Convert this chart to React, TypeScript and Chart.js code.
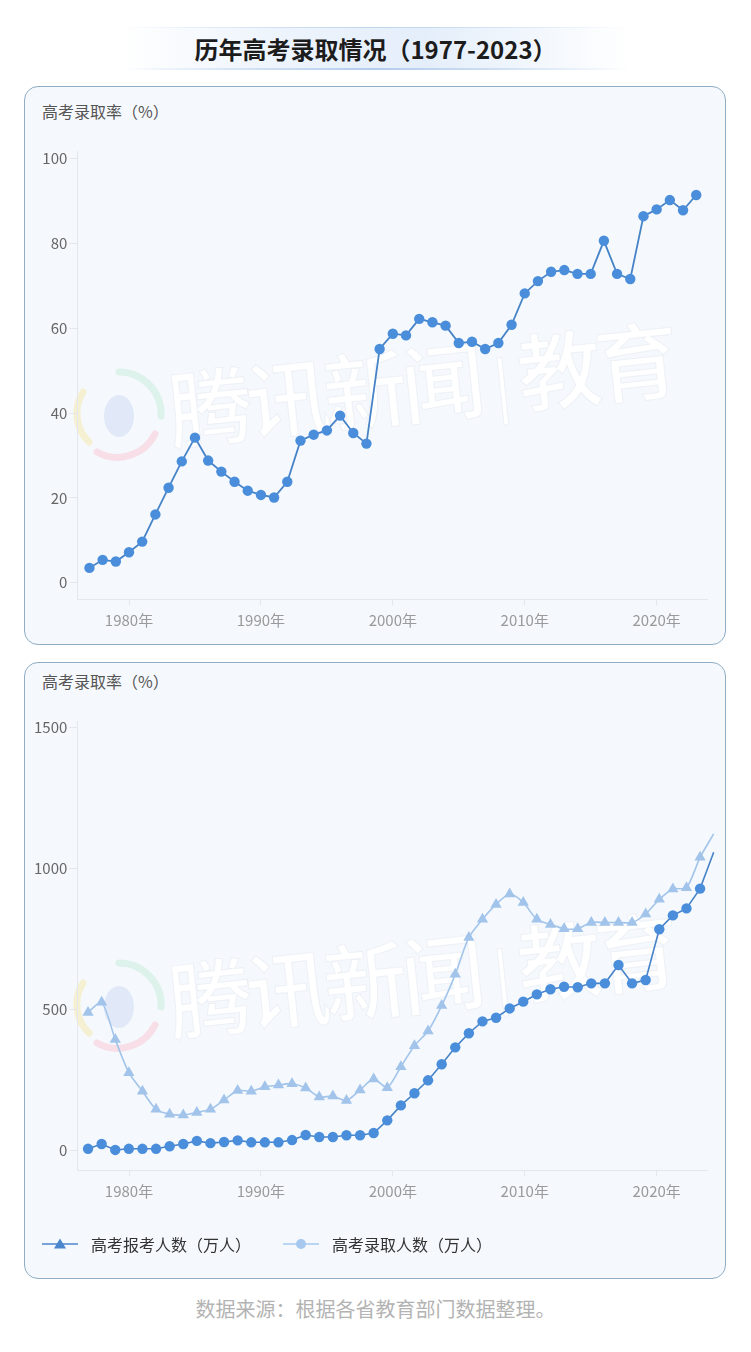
import React, { useEffect, useRef } from 'react';
import { Chart, registerables } from 'chart.js';

Chart.register(...registerables);

// ---------- data ----------
const years = [
  1977, 1978, 1979, 1980, 1981, 1982, 1983, 1984, 1985, 1986,
  1987, 1988, 1989, 1990, 1991, 1992, 1993, 1994, 1995, 1996,
  1997, 1998, 1999, 2000, 2001, 2002, 2003, 2004, 2005, 2006,
  2007, 2008, 2009, 2010, 2011, 2012, 2013, 2014, 2015, 2016,
  2017, 2018, 2019, 2020, 2021, 2022, 2023,
];

// 高考录取率（%）
const admissionRate = [
  3.5, 5.4, 5.0, 7.2, 9.7, 16.1, 22.4, 28.6, 34.2, 28.8,
  26.2, 23.8, 21.7, 20.7, 20.1, 23.8, 33.5, 34.9, 35.9, 39.4,
  35.3, 32.8, 55.1, 58.7, 58.3, 62.2, 61.4, 60.6, 56.5, 56.8,
  55.1, 56.5, 60.8, 68.2, 71.1, 73.3, 73.7, 72.8, 72.8, 80.6,
  72.8, 71.6, 86.4, 88.0, 90.2, 87.8, 91.4,
];

// 高考报考人数（万人） - light triangles
const applicants = [
  490, 526, 394, 276, 210, 146, 129, 126, 135, 146,
  179, 213, 210, 226, 232, 237, 222, 190, 193, 177,
  215, 254, 223, 297, 372, 424, 514, 625, 756, 820,
  873, 910, 880, 820, 802, 787, 787, 809, 809, 809,
  809, 839, 891, 928, 932, 1040, 1123,
];

// 高考录取人数（万人） - dark circles
const admitted = [
  6, 23, 2, 6, 6, 6, 15, 23, 34, 26,
  30, 36, 29, 29, 29, 37, 55, 48, 48, 54,
  54, 62, 107, 160, 203, 249, 306, 366, 416, 458,
  471, 504, 528, 554, 572, 581, 579, 593, 593, 658,
  593, 605, 785, 834, 859, 929, 1058,
];

const xTickYears = [1980, 1990, 2000, 2010, 2020];
const rateTicks = [0, 20, 40, 60, 80, 100];
const countTicks = [0, 500, 1000, 1500];

const legendLabels = ['高考报考人数（万人）', '高考录取人数（万人）'];

// ---------- styles ----------
const FONT = '"Noto Sans CJK SC", "Noto Sans", sans-serif';
const DARK = '#4a8edb';
const DARK_LINE = '#4783c7';
const LIGHT = '#a2c4ea';
const AXIS = '#e4e8ee';

Chart.defaults.font.family = FONT;

function xAxisCommon(min: number, max: number) {
  return {
    type: 'linear' as const,
    position: 'bottom' as const,
    min,
    max,
    afterBuildTicks: (s: any) => {
      s.ticks = xTickYears.map((v) => ({ value: v }));
    },
    afterFit: (s: any) => {
      s.height = 44.7;
    },
    grid: { drawOnChartArea: false, drawTicks: true, tickLength: 6, color: AXIS },
    border: { display: true, color: AXIS, width: 1 },
    ticks: {
      color: '#9a9a9a',
      font: { size: 15, family: FONT },
      padding: 6,
      maxRotation: 0,
      autoSkip: false,
      callback: (v: any) => `${v}年`,
    },
  };
}

function yAxisCommon(min: number, max: number, tickVals: number[]) {
  return {
    type: 'linear' as const,
    min,
    max,
    afterBuildTicks: (s: any) => {
      s.ticks = tickVals.map((v) => ({ value: v }));
    },
    afterFit: (s: any) => {
      s.width = 52.3;
    },
    grid: { drawOnChartArea: false, drawTicks: true, tickLength: 8, color: AXIS },
    border: { display: true, color: AXIS, width: 1 },
    ticks: {
      color: '#666666',
      font: { size: 15, family: FONT },
      padding: 2,
      callback: (v: any) => String(v),
    },
  };
}

function ChartCanvas({ build, width, height }: { build: () => any; width: number; height: number }) {
  const ref = useRef<HTMLCanvasElement | null>(null);
  useEffect(() => {
    const chart = new Chart(ref.current as HTMLCanvasElement, build());
    return () => chart.destroy();
  }, []);
  return (
    <canvas
      ref={ref}
      width={width}
      height={height}
      style={{ position: 'absolute', left: 0, top: 0, width, height }}
    />
  );
}

function buildRateChart() {
  return {
    type: 'line',
    data: {
      datasets: [
        {
          data: years.map((y, i) => ({ x: y, y: admissionRate[i] })),
          borderColor: DARK_LINE,
          borderWidth: 1.8,
          pointRadius: 5.2,
          pointHoverRadius: 5.2,
          pointBackgroundColor: DARK,
          pointBorderColor: DARK,
          pointBorderWidth: 0,
          tension: 0,
          clip: false,
        },
      ],
    },
    options: {
      animation: false,
      responsive: false,
      maintainAspectRatio: false,
      events: [],
      layout: { padding: { left: 0, right: 17.3, top: 64.7, bottom: 0 } },
      plugins: { legend: { display: false }, tooltip: { enabled: false } },
      scales: {
        x: xAxisCommon(1976.08, 2023.87),
        y: yAxisCommon(-3.9, 101.6, rateTicks),
      },
    },
  };
}

function buildCountChart() {
  const last = years.length - 1;
  return {
    type: 'line',
    data: {
      datasets: [
        {
          label: legendLabels[1],
          data: years.map((y, i) => ({ x: y, y: admitted[i] })),
          borderColor: DARK_LINE,
          borderWidth: 1.6,
          pointRadius: (c: any) => (c.dataIndex === last ? 0 : 5.2),
          pointHoverRadius: 5.2,
          pointBackgroundColor: DARK,
          pointBorderColor: DARK,
          pointBorderWidth: 0,
          tension: 0,
          clip: false,
          xAxisID: 'x',
        },
        {
          label: legendLabels[0],
          data: years.map((y, i) => ({ x: y, y: applicants[i] })),
          borderColor: LIGHT,
          borderWidth: 1.6,
          pointStyle: 'triangle',
          pointRadius: (c: any) => (c.dataIndex === last ? 0 : 6.5),
          pointHoverRadius: 6.5,
          pointBackgroundColor: LIGHT,
          pointBorderColor: LIGHT,
          pointBorderWidth: 0,
          tension: 0.25,
          clip: false,
          xAxisID: 'x',
        },
      ],
    },
    options: {
      animation: false,
      responsive: false,
      maintainAspectRatio: false,
      events: [],
      layout: { padding: { left: 0, right: 17.3, top: 58.7, bottom: 63.3 } },
      plugins: { legend: { display: false }, tooltip: { enabled: false } },
      scales: {
        x: { type: 'linear', display: false, min: 1976.21, max: 2022.56 },
        xt: xAxisCommon(1976.08, 2023.87),
        y: yAxisCommon(-69.2, 1521.3, countTicks),
      },
    },
  };
}

function Watermark({ top }: { top: number }) {
  return (
    <div style={{ position: 'absolute', left: 0, top, width: 700, height: 170, pointerEvents: 'none' }}>
      <svg width={100} height={100} style={{ position: 'absolute', left: 44, top: 30 }} viewBox="0 0 100 100">
        <path d="M 20 78 A 40 40 0 0 1 14 28" fill="none" stroke="#f6f0d2" strokeWidth={7} strokeLinecap="round" />
        <path d="M 50 8 A 42 42 0 0 1 92 52" fill="none" stroke="#ddf2eb" strokeWidth={7} strokeLinecap="round" />
        <path d="M 86 70 A 42 42 0 0 1 28 88" fill="none" stroke="#f8dfe7" strokeWidth={7} strokeLinecap="round" />
        <ellipse cx={50} cy={52} rx={15} ry={21} fill="#e1e9f8" />
      </svg>
      <div
        style={{
          position: 'absolute',
          left: 150,
          top: 18,
          fontFamily: FONT,
          fontSize: 84,
          fontWeight: 500,
          lineHeight: '110px',
          color: 'rgba(255,255,255,0.95)',
          WebkitTextStroke: '1px rgba(215,222,232,0.35)',
          transform: 'rotate(-6deg)',
          transformOrigin: 'left bottom',
          whiteSpace: 'nowrap',
          letterSpacing: -6,
        }}
      >
        腾讯新闻<span style={{ fontSize: 60, margin: '0 14px' }}>|</span>教育
      </div>
    </div>
  );
}

const panelBase: React.CSSProperties = {
  position: 'absolute',
  left: 24,
  width: 702,
  boxSizing: 'border-box',
  border: '1px solid #8fadc4',
  borderRadius: 14,
  background: '#f5f9fd',
  overflow: 'hidden',
};

const panelTitle: React.CSSProperties = {
  position: 'absolute',
  left: 17,
  fontFamily: FONT,
  fontSize: 16,
  lineHeight: '20px',
  color: '#555',
  whiteSpace: 'nowrap',
};

function LegendIcon({ kind, color }: { kind: 'triangle' | 'circle'; color: string }) {
  return (
    <svg width={36} height={14} viewBox="0 0 36 14" style={{ display: 'block' }}>
      <line x1={0} y1={7} x2={36} y2={7} stroke={color} strokeWidth={1.5} />
      {kind === 'triangle' ? (
        <polygon points="18,1.5 24,11.5 12,11.5" fill={color} />
      ) : (
        <circle cx={18} cy={7} r={5} fill={color} />
      )}
    </svg>
  );
}

export default function App() {
  return (
    <div style={{ position: 'relative', width: 751, height: 1352, margin: -8, background: '#ffffff', fontFamily: FONT }}>
      {/* title */}
      <div
        style={{
          position: 'absolute',
          left: 120,
          top: 27,
          width: 510,
          height: 43,
          background:
            'linear-gradient(90deg, rgba(226,237,250,0) 0%, rgba(236,243,252,0.9) 30%, rgba(228,238,250,1) 60%, rgba(226,237,250,0) 100%)',
        }}
      >
        <div style={{ position: 'absolute', left: 0, right: 0, top: 0, height: 1, background: 'linear-gradient(90deg, rgba(190,212,238,0), rgba(190,212,238,1) 50%, rgba(190,212,238,0))' }} />
        <div style={{ position: 'absolute', left: 0, right: 0, bottom: 0, height: 2, background: 'linear-gradient(90deg, rgba(190,212,238,0), rgba(180,205,236,1) 50%, rgba(190,212,238,0))' }} />
      </div>
      <div
        style={{
          position: 'absolute',
          left: 0,
          width: 751,
          top: 33,
          textAlign: 'center',
          fontSize: 24,
          fontWeight: 700,
          lineHeight: '32px',
          color: '#1c1c1c',
          whiteSpace: 'nowrap',
        }}
      >
        历年高考录取情况（1977-2023）
      </div>

      {/* panel 1 */}
      <div style={{ ...panelBase, top: 86, height: 559 }}>
        <Watermark top={247} />
        <div style={{ ...panelTitle, top: 14 }}>高考录取率（%）</div>
        <ChartCanvas build={buildRateChart} width={700} height={557} />
      </div>

      {/* panel 2 */}
      <div style={{ ...panelBase, top: 662, height: 617 }}>
        <Watermark top={262} />
        <div style={{ ...panelTitle, top: 8 }}>高考录取率（%）</div>
        <ChartCanvas build={buildCountChart} width={700} height={615} />
        <div style={{ position: 'absolute', left: 17, top: 571, height: 20, display: 'flex', alignItems: 'center', whiteSpace: 'nowrap' }}>
          <LegendIcon kind="triangle" color="#4a86cc" />
          <span style={{ marginLeft: 13, fontSize: 16, lineHeight: '20px', color: '#333' }}>{legendLabels[0]}</span>
          <div style={{ marginLeft: 32 }}>
            <LegendIcon kind="circle" color="#a6c8ee" />
          </div>
          <span style={{ marginLeft: 13, fontSize: 16, lineHeight: '20px', color: '#333' }}>{legendLabels[1]}</span>
        </div>
      </div>

      {/* footer */}
      <div
        style={{
          position: 'absolute',
          left: 0,
          width: 751,
          top: 1295,
          textAlign: 'center',
          fontSize: 20,
          lineHeight: '28px',
          color: '#b3b3b3',
          whiteSpace: 'nowrap',
        }}
      >
        数据来源：根据各省教育部门数据整理。
      </div>
    </div>
  );
}
